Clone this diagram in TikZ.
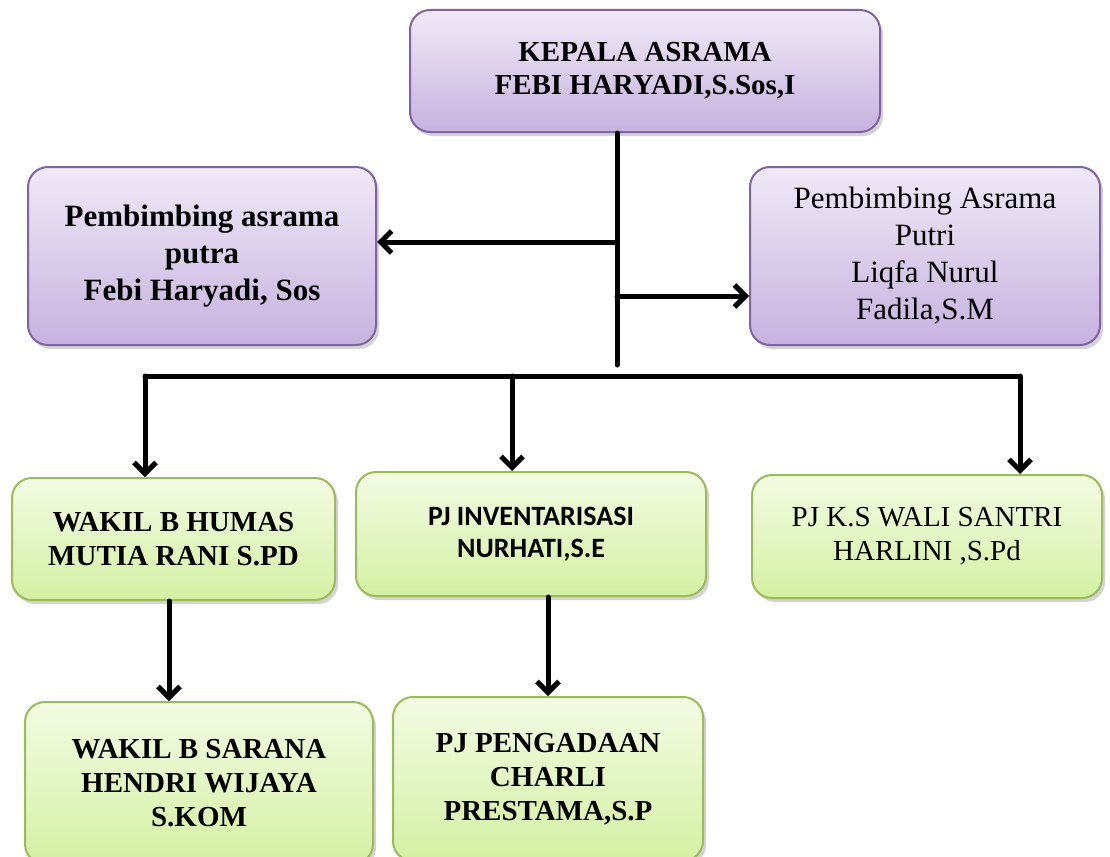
\documentclass[tikz,border=0pt]{standalone}
\usepackage{fontspec}
\setmainfont{Liberation Serif}
\newfontfamily\calibri{Carlito}
\usepackage{tikz}
\usetikzlibrary{arrows.meta,shadows}

\definecolor{purpleline}{HTML}{8064A2}
\definecolor{purpletop}{HTML}{EFE9F7}
\definecolor{purplebot}{HTML}{C6B2DF}
\definecolor{greenline}{HTML}{9BBB59}
\definecolor{greentop}{HTML}{F3FBE3}
\definecolor{greenbot}{HTML}{D3F0A2}

\begin{document}
\begin{tikzpicture}[x=1pt, y=-1pt,
    box/.style={rounded corners=20pt, inner sep=0pt, align=center, line width=2pt,
        drop shadow={shadow xshift=3pt, shadow yshift=-4pt, opacity=0.35}},
    purplebox/.style={box, draw=purpleline, top color=purpletop, bottom color=purplebot},
    greenbox/.style={box, draw=greenline, top color=greentop, bottom color=greenbot},
    bigtext/.style={font=\fontsize{31}{37}\selectfont},
    midtext/.style={font=\fontsize{29}{34}\selectfont},
    link/.style={line width=5pt, line cap=round},
    arrow/.style={link, -{Straight Barb[length=11pt,width=22pt]}}]
    \useasboundingbox (0,0) rectangle (1110,856);
    \clip (0,0) rectangle (1110,856);

    % Head
    \node[purplebox, minimum width=470pt, minimum height=122pt,
        font=\fontsize{29}{33}\selectfont\bfseries] (kepala) at (645,71)
        {KEPALA ASRAMA\\FEBI HARYADI,S.Sos,I};

    % Pembimbing
    \node[purplebox, bigtext, minimum width=348pt, minimum height=178pt] (putra) at (202,256)
        {\bfseries Pembimbing asrama\\\bfseries putra\\\bfseries Febi Haryadi, Sos};
    \node[purplebox, bigtext, minimum width=350pt, minimum height=178pt] (putri) at (925,256)
        {Pembimbing Asrama\\Putri\\Liqfa Nurul\\Fadila,S.M};

    % Second row
    \node[greenbox, midtext, minimum width=323pt, minimum height=122pt] (humas) at (173.5,539)
        {\bfseries WAKIL B HUMAS\\\bfseries MUTIA RANI S.PD};
    \node[greenbox, minimum width=350pt, minimum height=124pt,
        font=\fontsize{28}{32}\selectfont\calibri\bfseries] (inventaris) at (531,534)
        {PJ INVENTARISASI\\NURHATI,S.E};
    \node[greenbox, midtext, minimum width=350pt, minimum height=123pt] (walisantri) at (927,536.5)
        {PJ K.S WALI SANTRI\\HARLINI ,S.Pd};

    % Third row
    \node[greenbox, midtext, minimum width=348pt, minimum height=162pt] (sarana) at (199,783)
        {\bfseries WAKIL B SARANA\\\bfseries HENDRI WIJAYA\\\bfseries S.KOM};
    \node[greenbox, midtext, minimum width=310pt, minimum height=164pt] (pengadaan) at (548,779)
        {\bfseries PJ PENGADAAN\\\bfseries CHARLI\\\bfseries PRESTAMA,S.P};

    % Trunk and branches
    \coordinate (trunkend) at (617,365);
    \coordinate (lbranch) at (617,242);
    \coordinate (rbranch) at (617,296);
    \draw[link] (kepala.south -| trunkend) -- (trunkend);
    \draw[arrow] (lbranch) -- (putra.east |- lbranch);
    \draw[arrow] (rbranch) -- (putri.west |- rbranch);

    % Bus to second row
    \coordinate (busl) at (145,376);
    \coordinate (busm) at (512,376);
    \coordinate (busr) at (1020,376);
    \draw[link] (busl) -- (busr);
    \draw[arrow] (busl) -- (humas.north -| busl);
    \draw[arrow] (busm) -- (inventaris.north -| busm);
    \draw[arrow] (busr) -- (walisantri.north -| busr);

    % Down to third row
    \coordinate (humasdown) at (169,0);
    \draw[arrow] (humas.south -| humasdown) -- (sarana.north -| humasdown);
    \draw[arrow] (inventaris.south -| pengadaan.north) -- (pengadaan.north);
\end{tikzpicture}
\end{document}
